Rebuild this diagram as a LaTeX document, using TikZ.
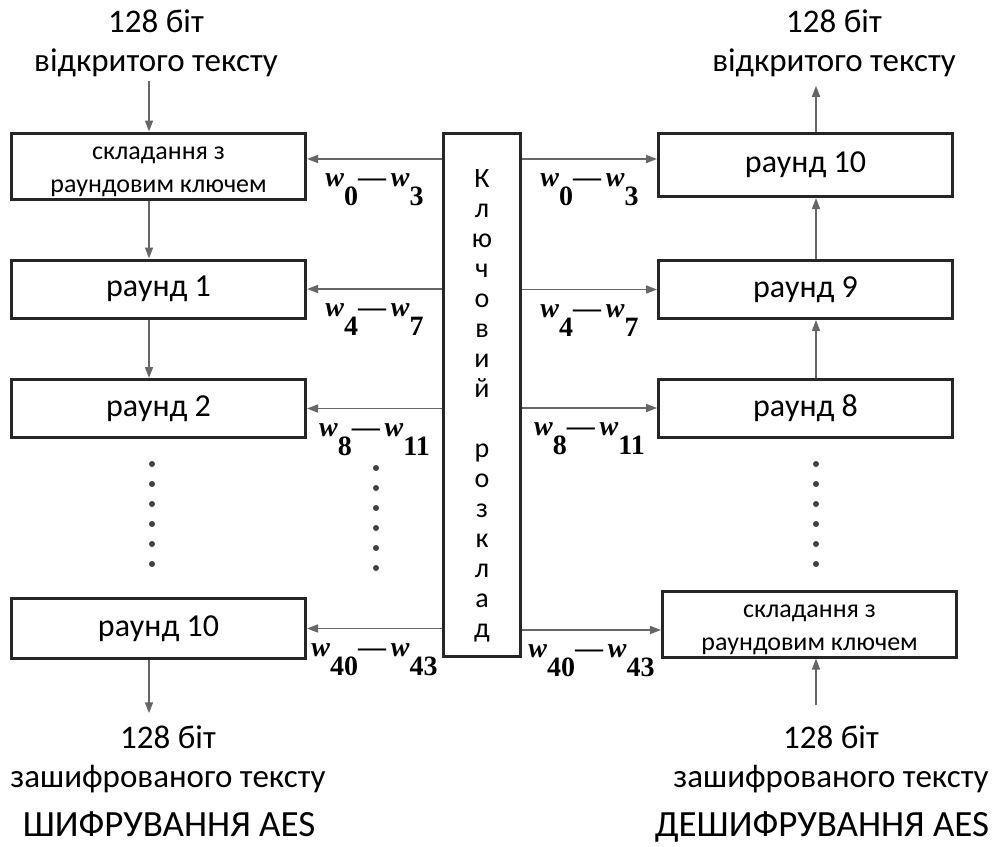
\documentclass[tikz,border=0pt]{standalone}
\usepackage{fontspec}
\setmainfont{Carlito}
\newfontfamily\wfont{Liberation Serif}
\usetikzlibrary{arrows.meta, positioning}
\newcommand{\wsub}[1]{\textit{w}\raisebox{-0.68em}{#1}}
\newcommand{\wrange}[2]{\wsub{#1}—\,\wsub{#2}}

\begin{document}
\begin{tikzpicture}[x=1pt, y=-1pt,
    roundbox/.style={draw=black!85, line width=3pt, minimum width=294pt, minimum height=58pt, inner sep=0pt, font=\fontsize{32}{36}\selectfont},
    addbox/.style={roundbox, minimum height=66pt, align=center, text height=56pt, text depth=4pt, font=\fontsize{26}{33}\selectfont},
    keybox/.style={draw=black!85, line width=3pt, minimum width=77pt, minimum height=523pt, inner sep=0pt, align=center, text height=494pt, text depth=10pt, font=\fontsize{28}{30}\selectfont},
    flow/.style={draw=black!60, line width=1.6pt, -{Triangle[length=11pt,width=8pt]}},
    wlab/.style={font=\wfont\bfseries\fontsize{28}{30}\selectfont, inner sep=0pt, below=14pt},
    caption/.style={align=center, inner sep=0pt, font=\fontsize{33}{39}\selectfont},
    headline/.style={inner sep=0pt, anchor=base, font=\fontsize{37}{43}\selectfont},
    pdot/.style={circle, fill=black!75, inner sep=0pt, minimum size=6pt}]
    \useasboundingbox (0,0) rectangle (1003,846);

    % Encryption
    \node[addbox] (enc0) at (158.5,166) {складання з\\раундовим ключем};
    \node[roundbox] (enc1) at (158.5,289) {раунд 1};
    \node[roundbox] (enc2) at (158.5,408.5) {раунд 2};
    \node[roundbox, minimum height=60pt] (enc10) at (158.5,628.5) {раунд 10};

    % Decryption
    \node[roundbox, minimum height=63pt] (dec10) at (805.5,165) {раунд 10};
    \node[roundbox] (dec9) at (805.5,289.5) {раунд 9};
    \node[roundbox] (dec8) at (805.5,408) {раунд 8};
    \node[addbox] (dec0) at (809.5,624) {складання з\\раундовим ключем};

    % Key schedule
    \node[keybox] (key) at (482,395) {К\\л\\ю\\ч\\о\\в\\и\\й\\[30pt]р\\о\\з\\к\\л\\а\\д};

    % Texts
    \node[caption] (ptin) at (156,43) {128 біт\\відкритого тексту};
    \node[caption] (ptout) at (834,43) {128 біт\\відкритого тексту};
    \node[caption] (ctout) at (168,759) {128 біт\\зашифрованого тексту};
    \node[caption] (ctin) at (831,759) {128 біт\\зашифрованого тексту};
    \node[headline] (enchead) at (169,836) {ШИФРУВАННЯ AES};
    \node[headline] (dechead) at (822,836) {ДЕШИФРУВАННЯ AES};

    \coordinate (encx) at (149,0);
    \coordinate (decx) at (816,0);

    % Data flow
    \draw[flow] ([yshift=-4pt]ptin.south -| encx) -- (enc0.north -| encx);
    \draw[flow] (enc0.south -| encx) -- (enc1.north -| encx);
    \draw[flow] (enc1.south -| encx) -- (enc2.north -| encx);
    \draw[flow] (enc10.south -| encx) -- ([yshift=12pt]ctout.north -| encx);
    \draw[flow] ([yshift=20pt]ctin.north -| decx) -- (dec0.south -| decx);
    \draw[flow] (dec8.north -| decx) -- (dec9.south -| decx);
    \draw[flow] (dec9.north -| decx) -- (dec10.south -| decx);
    \draw[flow] (dec10.north -| decx) -- ([yshift=-9pt]ptout.south -| decx);

    % Round keys
    \draw[flow] ([yshift=7pt]key.west |- enc0.east) -- node[wlab] (wl0) {\wrange{0}{3}} ([yshift=7pt]enc0.east);
    \draw[flow] (key.west |- enc1.east) -- node[wlab] (wl1) {\wrange{4}{7}} (enc1.east);
    \draw[flow] (key.west |- enc2.east) -- node[wlab] (wl2) {\wrange{8}{11}} (enc2.east);
    \draw[flow] (key.west |- enc10.east) -- node[wlab] (wl3) {\wrange{40}{43}} (enc10.east);
    \draw[flow] ([yshift=6pt]key.east |- dec10.west) -- node[wlab] (wr0) {\wrange{0}{3}} ([yshift=6pt]dec10.west);
    \draw[flow] (key.east |- dec9.west) -- node[wlab] (wr1) {\wrange{4}{7}} (dec9.west);
    \draw[flow] (key.east |- dec8.west) -- node[wlab] (wr2) {\wrange{8}{11}} (dec8.west);
    \draw[flow] ([yshift=-6pt]key.east |- dec0.west) -- node[wlab] (wr3) {\wrange{40}{43}} ([yshift=-6pt]dec0.west);

    % Dots
    \foreach \i in {0,...,5} {
        \node[pdot] (ldot\i) at (152,464+20*\i) {};
        \node[pdot] (mdot\i) at (376,468+20*\i) {};
        \node[pdot] (rdot\i) at (816,464+20*\i) {};
    }
\end{tikzpicture}
\end{document}
